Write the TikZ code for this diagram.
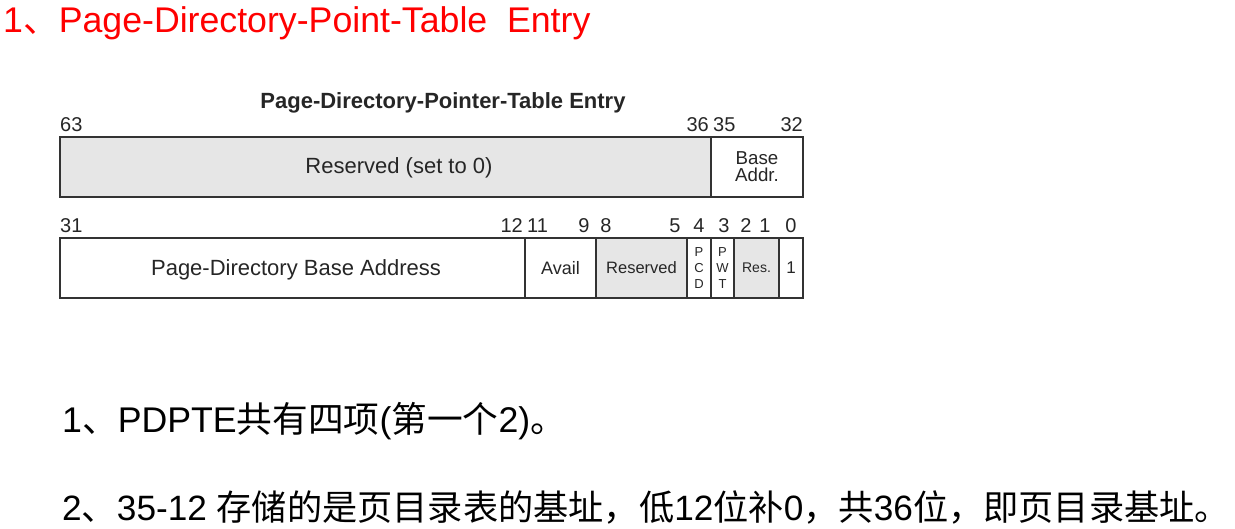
\documentclass[tikz,border=0pt]{standalone}
\usepackage{fontspec}
\setmainfont{Liberation Sans}
\newfontfamily\cjk{Noto Sans CJK SC}
\definecolor{fieldgray}{HTML}{E6E6E6}
\definecolor{linegray}{HTML}{333333}
\definecolor{titlered}{HTML}{FF0000}
\begin{document}
\begin{tikzpicture}[x=1pt,y=-1pt,
  field/.style={draw=linegray,line width=1.3pt,inner sep=0pt,outer sep=0pt,
    minimum height=60pt,align=center,text=black!85},
  grayf/.style={field,fill=fieldgray},
  whitef/.style={field,fill=white},
  txt/.style={inner sep=0pt,text=black!85},
  bitlbl/.style={inner sep=0pt,anchor=base,font=\fontsize{20}{20}\selectfont,text=black!85},
  big/.style={inner sep=0pt,anchor=base west,font=\fontsize{35.7}{40}\selectfont}]
\useasboundingbox (0,0) rectangle (1235,528);
% title
\node[big,text=titlered] (title) at (3,32) {1{\cjk 、}Page-Directory-Point-Table\ \ Entry};
\node[inner sep=0pt,anchor=base,font=\bfseries\fontsize{22}{22}\selectfont,text=black!85] (cap) at (443,108) {Page-Directory-Pointer-Table Entry};
% upper word
\node[grayf,minimum width=651pt] (resv) at (385.5,167) {};
\node[txt,font=\fontsize{22}{22}\selectfont] (resvtxt) at (399,168) {Reserved (set to 0)};
\node[whitef,minimum width=92pt,font=\fontsize{18.7}{17}\selectfont] (base) at (757,167) {Base\\Addr.};
% upper bit numbers
\node[bitlbl,anchor=base west] (b63) at (60,131) {63};
\node[bitlbl,anchor=base east] (b36) at (709,131) {36};
\node[bitlbl,anchor=base west] (b35) at (713,131) {35};
\node[bitlbl,anchor=base east] (b32) at (803,131) {32};
% lower word
\node[whitef,minimum width=465pt] (pdba) at (292.5,268) {};
\node[txt,font=\fontsize{22}{22}\selectfont] (pdbatxt) at (296,270) {Page-Directory Base Address};
\node[whitef,minimum width=71pt,font=\fontsize{18}{22}\selectfont] (avail) at (560.5,268) {Avail};
\node[grayf,minimum width=91pt,font=\fontsize{16.5}{16}\selectfont] (rsv2) at (641.5,268) {Reserved};
\node[whitef,minimum width=24pt,font=\fontsize{13}{16}\selectfont] (pcd) at (699,268) {P\\C\\D};
\node[whitef,minimum width=23pt,font=\fontsize{13}{16}\selectfont] (pwt) at (722.5,268) {P\\W\\T};
\node[grayf,minimum width=45pt,font=\fontsize{14}{16}\selectfont] (res) at (756.5,268) {Res.};
\node[whitef,minimum width=24pt,font=\fontsize{17}{16}\selectfont] (one) at (791,268) {1};
% lower bit numbers
\node[bitlbl,anchor=base west] (b31) at (60,232) {31};
\node[bitlbl,anchor=base east] (b12) at (523,232) {12};
\node[bitlbl,anchor=base west] (b11) at (527,232) {11};
\node[bitlbl] (b9) at (584,232) {9};
\node[bitlbl] (b8) at (606,232) {8};
\node[bitlbl] (b5) at (675,232) {5};
\node[bitlbl] (b4) at (699,232) {4};
\node[bitlbl] (b3) at (724,232) {3};
\node[bitlbl] (b2) at (746,232) {2};
\node[bitlbl] (b1) at (765,232) {1};
\node[bitlbl] (b0) at (791,232) {0};
% notes
\node[big] (n1) at (62,432) {1{\cjk 、}PDPTE{\cjk 共有四项}({\cjk 第一个}2){\cjk 。}};
\node[big,font=\fontsize{35.2}{40}\selectfont] (n2) at (62,520) {2{\cjk 、}35-12 {\cjk 存储的是页目录表的基址，低}12{\cjk 位补}0{\cjk ，共}36{\cjk 位，即页目录基址。}};
\end{tikzpicture}
\end{document}
